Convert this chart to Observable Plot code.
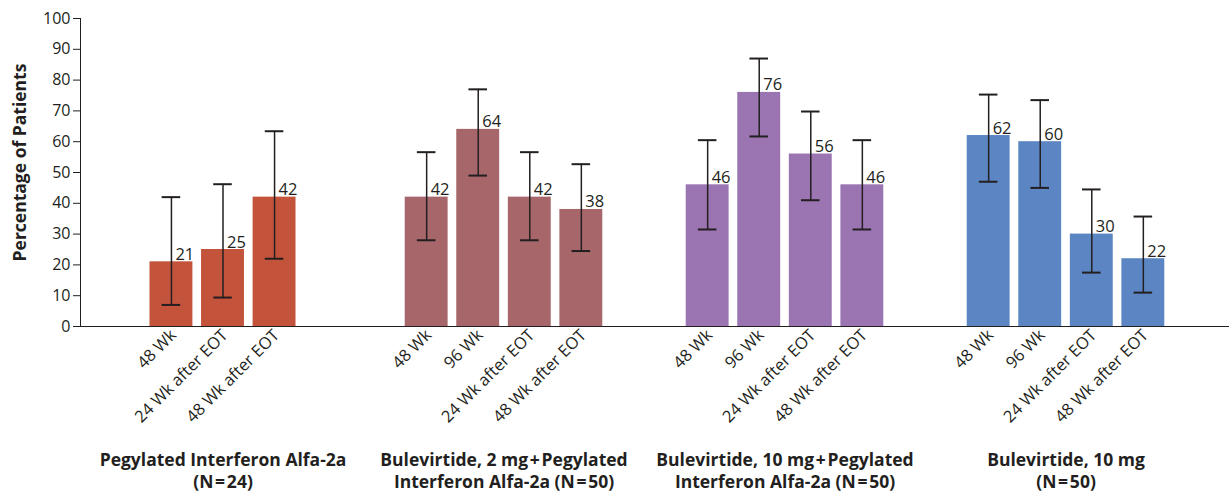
<!DOCTYPE html>
<html>
<head>
<meta charset="utf-8">
<script src="https://cdn.jsdelivr.net/npm/d3@7"></script>
<script src="https://cdn.jsdelivr.net/npm/@observablehq/plot@0.6"></script>
<style>
  html, body { margin: 0; padding: 0; background: #fff; }
  #chart svg { font-family: "Open Sans", sans-serif; color: #231f20; }
  [aria-label="fx-axis tick label"] text, [aria-label="fx-axis tick label"] { font-weight: bold; }
</style>
</head>
<body>
<div id="chart"></div>
<script>
const groups = [
  "Pegylated Interferon Alfa-2a\n(N\u200A=\u200A24)",
  "Bulevirtide, 2 mg\u200A+\u200APegylated\nInterferon Alfa-2a (N\u200A=\u200A50)",
  "Bulevirtide, 10 mg\u200A+\u200APegylated\nInterferon Alfa-2a (N\u200A=\u200A50)",
  "Bulevirtide, 10 mg\n(N\u200A=\u200A50)"
];
const colors = ["#c4533b", "#a6666a", "#9b74b2", "#5b86c3"];
const timepoints = [
  ["48 Wk", "24 Wk after EOT", "48 Wk after EOT"],
  ["48 Wk", "96 Wk", "24 Wk after EOT", "48 Wk after EOT"],
  ["48 Wk", "96 Wk", "24 Wk after EOT", "48 Wk after EOT"],
  ["48 Wk", "96 Wk", "24 Wk after EOT", "48 Wk after EOT"]
];
const values = [
  [21, 25, 42],
  [42, 64, 42, 38],
  [46, 76, 56, 46],
  [62, 60, 30, 22]
];
const lower = [
  [7, 9.4, 22],
  [28, 49, 28, 24.5],
  [31.5, 61.7, 41, 31.5],
  [47, 45, 17.5, 11]
];
const upper = [
  [42, 46.2, 63.4],
  [56.6, 77, 56.6, 52.7],
  [60.5, 87, 69.8, 60.5],
  [75.3, 73.5, 44.5, 35.7]
];
const yTicks = [0, 10, 20, 30, 40, 50, 60, 70, 80, 90, 100];
const yTitle = "Percentage of Patients";

// table built from the arrays; pos = slot offset from the group centre
const data = groups.flatMap((g, gi) =>
  timepoints[gi].map((tp, i) => ({
    group: g,
    tp,
    pos: i - (timepoints[gi].length - 1) / 2,
    value: values[gi][i],
    lo: lower[gi][i],
    hi: upper[gi][i]
  }))
);

const xDomain = [-2.725, 2.725];
const halfBar = 0.416, halfCap = 0.18;
const ink = "#231f20";

const chart = Plot.plot({
  width: 1230,
  height: 492,
  marginTop: 18,
  marginBottom: 166,
  marginLeft: 80,
  marginRight: 23,
  style: { fontFamily: "'Open Sans', sans-serif", color: ink, background: "#fff" },
  fx: { domain: groups, padding: 0 },
  x: { domain: xDomain },
  y: { domain: [0, 100] },
  color: { domain: groups, range: colors },
  marks: [
    Plot.rect(data, { fx: "group", x1: d => d.pos - halfBar, x2: d => d.pos + halfBar, y1: 0, y2: "value", fill: "group" }),
    Plot.ruleY([0], { stroke: ink, strokeWidth: 1.5, insetLeft: -2, insetRight: -23, shapeRendering: "crispEdges" }),
    Plot.ruleX([groups[0]], { fx: d => d, x: xDomain[0], y1: 0, y2: 100, stroke: ink, strokeWidth: 1.5, dx: -2, shapeRendering: "crispEdges" }),
    Plot.axisY({ anchor: "left", ticks: yTicks, tickSize: 7, tickPadding: 3, fontSize: 16, dx: -2, label: null }),
    Plot.text([yTitle], { fx: () => groups[0], text: d => d, frameAnchor: "left", textAnchor: "middle", lineAnchor: "middle",
      rotate: -90, dx: -62, dy: -10, fontSize: 17.5, fontWeight: "bold", fill: ink }),
    Plot.axisFx({ anchor: "bottom", tickSize: 0, tickPadding: 123, fontSize: 17.5, fontWeight: "bold", lineHeight: 1.3, label: null }),
    Plot.axisX({ ticks: [], label: null, tickSize: 0 }),
    Plot.ruleX(data, { fx: "group", x: "pos", y1: "lo", y2: "hi", stroke: ink, strokeWidth: 1.5 }),
    Plot.ruleY(data, { fx: "group", y: "lo", x1: d => d.pos - halfCap, x2: d => d.pos + halfCap, stroke: ink, strokeWidth: 2 }),
    Plot.ruleY(data, { fx: "group", y: "hi", x1: d => d.pos - halfCap, x2: d => d.pos + halfCap, stroke: ink, strokeWidth: 2 }),
    Plot.text(data, { fx: "group", x: "pos", y: "value", text: d => String(d.value), textAnchor: "start", lineAnchor: "bottom", dx: 4, dy: -2, fontSize: 16.5, fill: ink }),
    Plot.text(data, { fx: "group", x: "pos", y: 0, text: "tp", rotate: -45, textAnchor: "end", dx: 2, dy: 6, fontSize: 16.5, fill: ink })
  ]
});
document.getElementById("chart").appendChild(chart);
</script>
</body>
</html>
